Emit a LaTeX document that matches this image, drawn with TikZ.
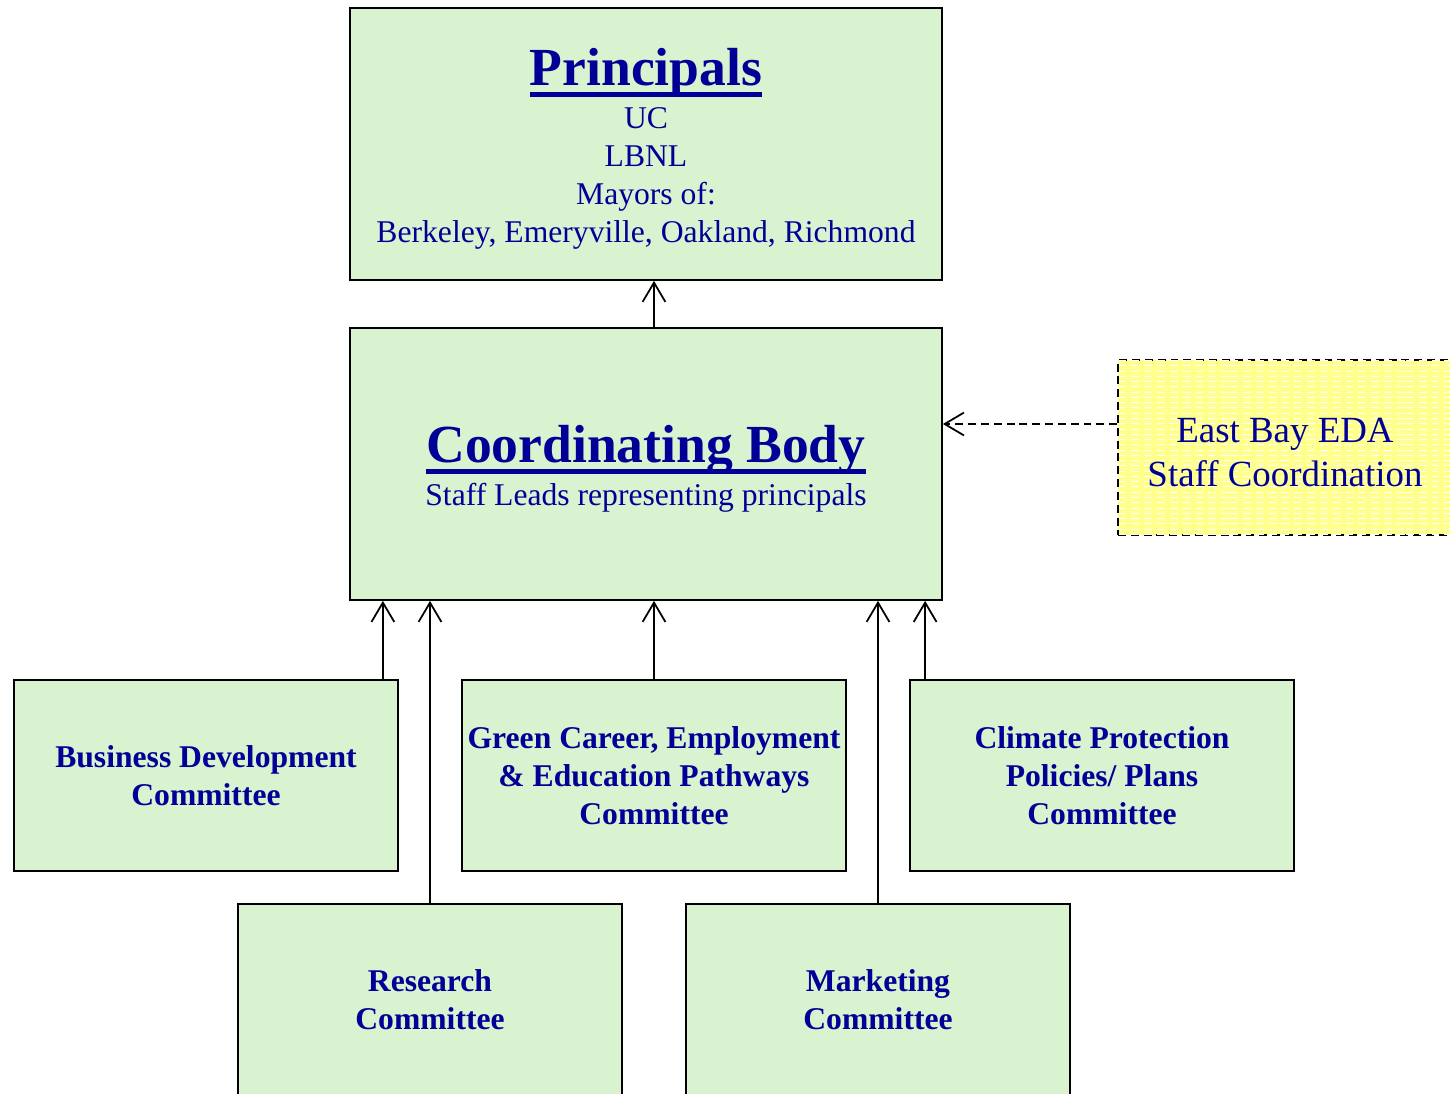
\documentclass[tikz,border=0pt]{standalone}
\usepackage{fontspec}
\setmainfont{Liberation Serif}
\usepackage{tikz}
\usetikzlibrary{positioning,arrows.meta,calc,patterns}
\definecolor{boxgreen}{RGB}{217,242,208}
\definecolor{edayellow}{RGB}{255,255,140}
\definecolor{inkblue}{RGB}{0,0,150}
\tikzset{>={Straight Barb[length=11pt,width=13pt,line width=1pt]}}
\newcommand\thickul[1]{\setbox0\hbox{#1}\rlap{\rule[-6.4pt]{\wd0}{2.6pt}}\box0}

\begin{document}
\begin{tikzpicture}[
    every node/.style={
        draw=black,
        line width=1pt,
        fill=boxgreen,
        text=inkblue,
        align=center,
        inner sep=0pt
        },
    bigbox/.style={minimum width=11.84cm, minimum height=5.44cm,
        font=\fontsize{18}{21.6}\selectfont},
    cttbox/.style={minimum width=7.68cm, minimum height=3.82cm,
        font=\fontsize{18}{21.8}\selectfont\bfseries}
    ]
    \clip (0,0) rectangle (29,-21.88);
    \useasboundingbox (0,0) rectangle (29,-21.88);

    \begin{scope}[on grid]
    \node[bigbox] (princ) at (12.92,-2.88)
        {\rule{0pt}{27pt}{\fontsize{30.5}{34}\selectfont\bfseries\thickul{Principals}}\\[3pt]
         UC\\ LBNL\\ Mayors of:\\ Berkeley, Emeryville, Oakland, Richmond};
    \node[bigbox] (coord) [below = 6.4cm of princ]
        {\rule{0pt}{27pt}{\fontsize{30.5}{34}\selectfont\bfseries\thickul{Coordinating Body}}\\[3pt]
         Staff Leads representing principals};
    \node[minimum width=6.68cm, minimum height=3.5cm,
          dash pattern=on 4.5pt off 2.8pt,
          fill=edayellow, postaction={pattern=horizontal lines, pattern color=white},
          font=\fontsize{21}{25}\selectfont] (eda)
        [above right = 0.33cm and 12.78cm of coord]
        {\rule{0pt}{20pt}East Bay EDA\\ Staff Coordination};
    \node[cttbox] (green) [below right = 6.23cm and 0.16cm of coord]
        {Green Career, Employment\\ \& Education Pathways\\ Committee};
    \node[cttbox] (busi) [left = 8.96cm of green]
        {Business Development\\ Committee};
    \node[cttbox] (climate) [right = 8.96cm of green]
        {Climate Protection\\ Policies/ Plans\\ Committee};
    \node[cttbox] (research) [below left = 4.48cm and 4.48cm of green]
        {Research\\ Committee};
    \node[cttbox] (market) [below right = 4.48cm and 4.48cm of green]
        {Marketing\\ Committee};
    \end{scope}

    \draw[->, line width=1pt] (coord.north -| green) -- (princ.south -| green);
    \draw[->, line width=1pt] ([xshift=-0.32cm]busi.north east) coordinate (b)
        -- (b |- coord.south);
    \draw[->, line width=1pt] (research.north) -- (research.north |- coord.south);
    \draw[->, line width=1pt] (green.north) -- (green.north |- coord.south);
    \draw[->, line width=1pt] (market.north) -- (market.north |- coord.south);
    \draw[->, line width=1pt] ([xshift=0.32cm]climate.north west) coordinate (c)
        -- (c |- coord.south);
    \draw[->, dash pattern=on 4.5pt off 2.8pt, line width=1pt]
        (eda.west |- 0,-8.48) -- (coord.east |- 0,-8.48);
\end{tikzpicture}
\end{document}
